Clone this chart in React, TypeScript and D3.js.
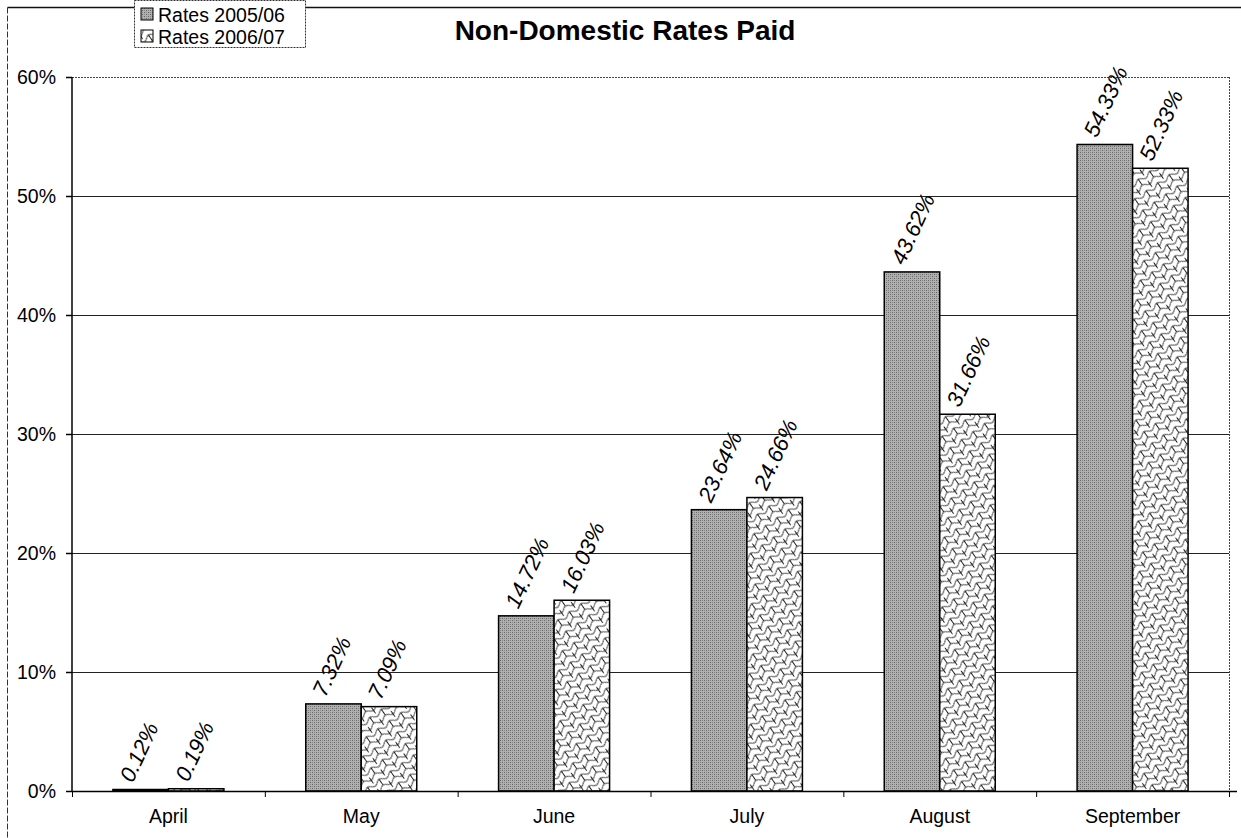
import React from "react";
import * as d3 from "d3";

const categories = ["April", "May", "June", "July", "August", "September"];
const seriesNames = ["Rates 2005/06", "Rates 2006/07"];
const rates0506 = [0.12, 7.32, 14.72, 23.64, 43.62, 54.33];
const rates0607 = [0.19, 7.09, 16.03, 24.66, 31.66, 52.33];
const yTicks = [0, 10, 20, 30, 40, 50, 60];

const W = 1241;
const H = 838;
const plot = { left: 72, right: 1229, top: 77, bottom: 791 };

export default function App() {
  const x = d3.scaleBand<string>().domain(categories).range([plot.left, plot.right]).paddingInner(0).paddingOuter(0);
  const y = d3.scaleLinear().domain([0, 60]).range([plot.bottom, plot.top]);
  const barW = 55.5;
  const series = [rates0506, rates0607];
  const fills = ["url(#pat1)", "url(#pat2)"];
  const font = "Arial, 'Liberation Sans', sans-serif";

  return (
    <svg width={W} height={H} style={{ position: "absolute", left: 0, top: 0, background: "#fff" }} fontFamily={font}>
      <defs>
        <pattern id="pat1" width="4" height="4" patternUnits="userSpaceOnUse">
          <rect width="4" height="4" fill="#b0b0b0" />
          <rect width="1" height="1" x="0" y="0" fill="#666" />
          <rect width="1" height="1" x="2" y="2" fill="#666" />
          <rect width="1" height="1" x="2" y="0" fill="#888" />
          <rect width="1" height="1" x="0" y="2" fill="#888" />
        </pattern>
        <pattern id="pat2" width="14" height="14" patternUnits="userSpaceOnUse" patternTransform="rotate(-35)">
          <rect width="14" height="14" fill="#fff" />
          <path d="M0,3.5 Q3.5,0 7,3.5 T14,3.5 M0,10.5 Q3.5,7 7,10.5 T14,10.5 M3.5,1.75 L3.5,8.75 M10.5,8.75 L10.5,15.75 M10.5,-5.25 L10.5,1.75" stroke="#222" strokeWidth="1" fill="none" />
        </pattern>
      </defs>

      {/* outer frame */}
      <line x1={7.5} y1={7.5} x2={W} y2={7.5} stroke="#111" strokeWidth={1.5} />
      <line x1={7.5} y1={7.5} x2={7.5} y2={H} stroke="#333" strokeWidth={1} strokeDasharray="6,2" />

      {/* plot area border (dotted) */}
      <line x1={plot.left} y1={plot.top + 0.5} x2={plot.right} y2={plot.top + 0.5} stroke="#444" strokeDasharray="2,1" />
      <line x1={plot.right + 0.5} y1={plot.top} x2={plot.right + 0.5} y2={plot.bottom} stroke="#444" strokeDasharray="2,1" />

      {/* gridlines */}
      {yTicks.map((t) => (
        <g key={t}>
          {t > 0 && t < 60 && (
            <line x1={plot.left} x2={plot.right} y1={Math.round(y(t)) + 0.5} y2={Math.round(y(t)) + 0.5} stroke="#222" strokeWidth={1} />
          )}
          <line x1={plot.left - 6} x2={plot.left} y1={Math.round(y(t)) + 0.5} y2={Math.round(y(t)) + 0.5} stroke="#000" strokeWidth={1.5} />
          <text x={plot.left - 16} y={y(t) + 7} textAnchor="end" fontSize={19.5} fill="#000">
            {t}%
          </text>
        </g>
      ))}

      {/* bars */}
      {categories.map((c, i) => {
        const cx = (x(c) as number) + x.bandwidth() / 2;
        return (
          <g key={c}>
            {series.map((s, k) => {
              const bx = cx - barW + k * barW;
              const top = y(s[i]);
              const h = Math.max(plot.bottom - top, 1.5);
              return (
                <rect key={k} x={bx} y={plot.bottom - h} width={barW} height={h} fill={fills[k]} stroke="#000" strokeWidth={1.5} />
              );
            })}
            {series.map((s, k) => {
              const bx = cx - barW + k * barW;
              const lx = bx + barW / 2 - 8;
              const ly = y(s[i]) - 6;
              return (
                <text key={"l" + k} transform={`translate(${lx},${ly}) rotate(-65)`} fontSize={22} fontStyle="italic" fill="#000">
                  {s[i].toFixed(2)}%
                </text>
              );
            })}
            <text x={cx} y={823} textAnchor="middle" fontSize={19.5} fill="#000">
              {c}
            </text>
          </g>
        );
      })}

      {/* axes */}
      <line x1={plot.left} x2={plot.left} y1={plot.top} y2={plot.bottom} stroke="#000" strokeWidth={1.5} />
      <line x1={plot.left} x2={plot.right + 8} y1={plot.bottom + 0.5} y2={plot.bottom + 0.5} stroke="#000" strokeWidth={1.5} />
      {categories.map((c) => (
        <line key={"t" + c} x1={(x(c) as number) + 0.5} x2={(x(c) as number) + 0.5} y1={plot.bottom} y2={plot.bottom + 6} stroke="#000" />
      ))}
      <line x1={plot.right + 0.5} x2={plot.right + 0.5} y1={plot.bottom} y2={plot.bottom + 6} stroke="#000" />

      {/* title */}
      <text x={625} y={40} textAnchor="middle" fontSize={28} fontWeight="bold" fill="#000">
        Non-Domestic Rates Paid
      </text>

      {/* legend */}
      <rect x={134.5} y={0.5} width={171} height={47} fill="#fff" stroke="#333" strokeDasharray="2,1" />
      {seriesNames.map((n, k) => (
        <g key={n}>
          <rect x={141} y={8 + k * 22} width={12} height={12} fill={fills[k]} stroke="#000" />
          <text x={158} y={21.5 + k * 22} fontSize={19.5} fill="#000">
            {n}
          </text>
        </g>
      ))}
    </svg>
  );
}
